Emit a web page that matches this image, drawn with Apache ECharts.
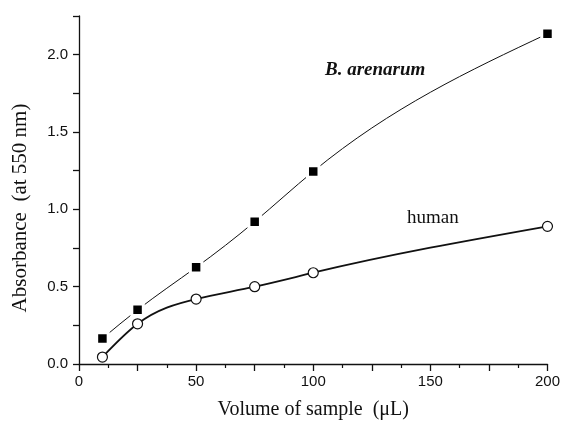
<!DOCTYPE html>
<html>
<head>
<meta charset="utf-8">
<style>
  html, body { margin: 0; padding: 0; background: #fff; }
  #chart { width: 563px; height: 425px; }
</style>
<script src="https://cdn.jsdelivr.net/npm/echarts@6/dist/echarts.min.js"></script>
</head>
<body>
<div id="chart"></div>
<script>
// sample volumes (uL)
const volumes = [10, 25, 50, 75, 100, 200]
// absorbance at 550 nm
const arenarumValues = [0.165, 0.35, 0.625, 0.92, 1.245, 2.135]
const humanValues = [0.045, 0.26, 0.42, 0.50, 0.59, 0.89]

const xLabelStep = 50
const yLabelStep = 0.5

const pairs = (xs, ys) => xs.map((x, i) => [x, ys[i]])

const serif = '"Liberation Serif", "Times New Roman", serif'
const sans = '"Liberation Sans", Arial, sans-serif'

// slopes of a natural cubic spline through the points
function slopes(xs, ys) {
  const n = xs.length
  const h = [], s = []
  for (let i = 0; i < n - 1; i++) {
    h.push(xs[i + 1] - xs[i])
    s.push((ys[i + 1] - ys[i]) / h[i])
  }
  // tridiagonal solve for second derivatives (ends = 0)
  const M = new Array(n).fill(0)
  const c = [], d = []
  for (let i = 1; i < n - 1; i++) {
    const a = h[i - 1], b = 2 * (h[i - 1] + h[i]), cc = h[i]
    const r = 6 * (s[i] - s[i - 1])
    const prevC = i > 1 ? c[i - 1] : 0
    const prevD = i > 1 ? d[i - 1] : 0
    const den = b - a * prevC
    c[i] = cc / den
    d[i] = (r - a * prevD) / den
  }
  for (let i = n - 2; i >= 1; i--) {
    M[i] = d[i] - c[i] * M[i + 1]
  }
  const m = []
  for (let i = 0; i < n - 1; i++) {
    m[i] = s[i] - h[i] * (2 * M[i] + M[i + 1]) / 6
  }
  m[n - 1] = s[n - 2] + h[n - 2] * (M[n - 2] + 2 * M[n - 1]) / 6
  return m
}

// curve through the points, drawn with the grid's own coords
function curveSeries(xs, ys, width) {
  const m = slopes(xs, ys)
  return {
    type: 'custom',
    data: [[xs[0], ys[0]]],
    silent: true,
    z: 1,
    renderItem: (params, api) => {
      const children = []
      for (let i = 0; i < xs.length - 1; i++) {
        const dx = (xs[i + 1] - xs[i]) / 3
        const p0 = api.coord([xs[i], ys[i]])
        const c1 = api.coord([xs[i] + dx, ys[i] + m[i] * dx])
        const c2 = api.coord([xs[i + 1] - dx, ys[i + 1] - m[i + 1] * dx])
        const p1 = api.coord([xs[i + 1], ys[i + 1]])
        children.push({
          type: 'bezierCurve',
          shape: { x1: p0[0], y1: p0[1], cpx1: c1[0], cpy1: c1[1], cpx2: c2[0], cpy2: c2[1], x2: p1[0], y2: p1[1] },
          style: { stroke: '#111', lineWidth: width, fill: null }
        })
      }
      return { type: 'group', children: children }
    }
  }
}

const myChart = echarts.init(document.getElementById('chart'))
myChart.setOption({
  animation: false,
  backgroundColor: '#fff',
  grid: {
    left: 79,
    right: 15,
    top: 16,
    bottom: 55
  },
  xAxis: {
    type: 'value',
    min: 0,
    max: 200,
    interval: 25,
    name: 'Volume of sample  (\u03bcL)',
    nameLocation: 'middle',
    nameGap: 36,
    nameTextStyle: { fontFamily: serif, fontSize: 20, color: '#111' },
    axisLine: { lineStyle: { color: '#111', width: 1.3 } },
    axisTick: { length: 7, lineStyle: { color: '#111', width: 1.3 } },
    minorTick: { show: true, splitNumber: 2, length: 4, lineStyle: { color: '#111', width: 1.2 } },
    axisLabel: {
      margin: 10,
      fontFamily: sans,
      fontSize: 15,
      color: '#111',
      formatter: v => (v % xLabelStep === 0 ? String(v) : '')
    },
    splitLine: { show: false }
  },
  yAxis: {
    type: 'value',
    min: 0,
    max: 2.25,
    interval: 0.25,
    name: 'Absorbance  (at 550 nm)',
    nameLocation: 'middle',
    nameGap: 48,
    nameTextStyle: { fontFamily: serif, fontSize: 21, color: '#111', padding: [0, 36, 0, 0] },
    axisLine: { show: true, lineStyle: { color: '#111', width: 1.3 } },
    axisTick: { show: true, length: 6, lineStyle: { color: '#111', width: 1.3 } },
    axisLabel: {
      margin: 11,
      fontFamily: sans,
      fontSize: 15,
      color: '#111',
      formatter: v => (Math.abs(v / yLabelStep - Math.round(v / yLabelStep)) < 1e-6 ? v.toFixed(1) : '')
    },
    splitLine: { show: false }
  },
  series: [
    curveSeries(volumes, arenarumValues, 1),
    curveSeries(volumes, humanValues, 1.8),
    {
      name: 'B. arenarum',
      type: 'scatter',
      data: pairs(volumes, arenarumValues),
      symbol: 'rect',
      symbolSize: 11.5,
      itemStyle: { color: '#000', borderColor: '#fff', borderWidth: 3, opacity: 1 },
      z: 3
    },
    {
      name: 'human',
      type: 'scatter',
      data: pairs(volumes, humanValues),
      symbol: 'circle',
      symbolSize: 10,
      itemStyle: { color: '#fff', borderColor: '#111', borderWidth: 1.2, opacity: 1 },
      z: 3
    }
  ],
  graphic: [
    {
      type: 'text',
      left: 325,
      top: 61,
      style: {
        text: 'B. arenarum',
        font: 'italic bold 19px ' + serif,
        fill: '#111'
      }
    },
    {
      type: 'text',
      left: 407,
      top: 209,
      style: {
        text: 'human',
        font: '19px ' + serif,
        fill: '#111'
      }
    }
  ]
})
window.addEventListener('resize', () => {
  myChart.resize()
})
</script>
</body>
</html>
